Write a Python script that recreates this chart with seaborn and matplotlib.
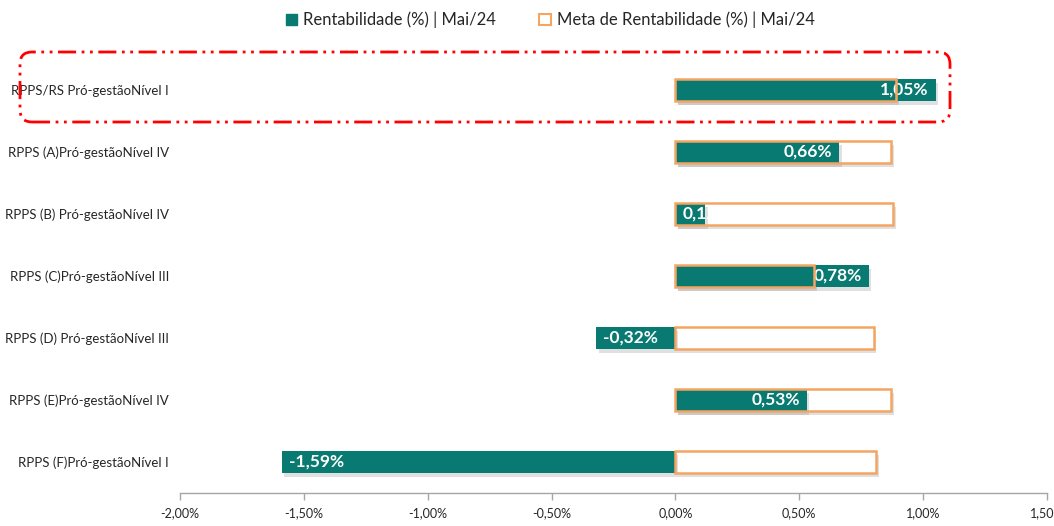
import numpy as np
import pandas as pd
import matplotlib
matplotlib.use("Agg")
import matplotlib.pyplot as plt
import matplotlib.patheffects as pe
from matplotlib.patches import Patch, FancyBboxPatch
from matplotlib.transforms import IdentityTransform
import seaborn as sns

categories = [
    "RPPS/RS Pró-gestãoNível I",
    "RPPS (A)Pró-gestãoNível IV",
    "RPPS (B) Pró-gestãoNível IV",
    "RPPS (C)Pró-gestãoNível III",
    "RPPS (D) Pró-gestãoNível III",
    "RPPS (E)Pró-gestãoNível IV",
    "RPPS (F)Pró-gestãoNível I",
]
rentabilidade = [1.05, 0.66, 0.12, 0.78, -0.32, 0.53, -1.59]
meta = [0.89, 0.87, 0.88, 0.56, 0.80, 0.87, 0.81]
xticks = [-2.0, -1.5, -1.0, -0.5, 0.0, 0.5, 1.0, 1.5]
legend_labels = ["Rentabilidade (%) | Mai/24", "Meta de Rentabilidade (%) | Mai/24"]

TEAL = "#097a71"
ORANGE = "#f4a562"

sns.set_style("white")
plt.rcParams["font.family"] = ["Lato", "DejaVu Sans"]

df = pd.DataFrame({"cat": categories, "rent": rentabilidade, "meta": meta})

fig = plt.figure(figsize=(10.54, 5.26), dpi=100)
ax = fig.add_axes([180 / 1054, 1 - 493 / 526, (1047 - 180) / 1054, 434 / 526])

shadow = [pe.SimplePatchShadow(offset=(2, -3), shadow_rgbFace="#999999", alpha=0.3), pe.Normal()]

# meta white fill
sns.barplot(data=df, x="meta", y="cat", orient="h", color="white", width=0.36,
            edgecolor="none", linewidth=0, saturation=1, ax=ax, zorder=1)
for p in ax.patches:
    p.set_path_effects(shadow)
n_meta = len(ax.patches)
# rentabilidade teal
sns.barplot(data=df, x="rent", y="cat", orient="h", color=TEAL, width=0.36,
            edgecolor="none", linewidth=0, saturation=1, ax=ax, zorder=2)
for p in ax.patches[n_meta:]:
    p.set_path_effects(shadow)
n_rent = len(ax.patches)
# meta outline on top
sns.barplot(data=df, x="meta", y="cat", orient="h", fill=False, width=0.36,
            edgecolor=ORANGE, linewidth=1.8, ax=ax, zorder=4)
for p in ax.patches[n_rent:]:
    p.set_facecolor("none")
    p.set_edgecolor(ORANGE)
    p.set_linewidth(1.8)
    p.set_zorder(4)

# value labels
for i, v in enumerate(rentabilidade):
    txt = f"{v:.2f}%".replace(".", ",")
    kw = dict(textcoords="offset points", va="center", color="white", fontsize=12.5,
              fontweight="bold", zorder=3)
    if v < 0:
        ax.annotate(txt, (v, i), xytext=(5, 0), ha="left", **kw)
    elif v < 0.3:
        ax.annotate(txt, (0, i), xytext=(5, 0), ha="left", **kw)
    else:
        ax.annotate(txt, (v, i), xytext=(-5, 0), ha="right", **kw)

ax.set_xlim(-2.0, 1.5)
ax.set_ylim(6.5, -0.5)
ax.set_xticks(xticks)
ax.set_xticklabels([f"{t:.2f}%".replace(".", ",") for t in xticks], fontsize=9)
ax.set_xlabel("")
ax.set_ylabel("")
ax.tick_params(axis="y", length=0, pad=8, labelsize=9.5)
ax.tick_params(axis="x", bottom=True, length=5, width=1, color="#a6a6a6", direction="out", pad=5)
for s in ["left", "top", "right"]:
    ax.spines[s].set_visible(False)
ax.spines["bottom"].set_color("#a6a6a6")
ax.spines["bottom"].set_linewidth(1)
ax.grid(False)

# legend
handles = [Patch(facecolor=TEAL, edgecolor=TEAL),
           Patch(facecolor="white", edgecolor=ORANGE, linewidth=1.5)]
fig.legend(handles, legend_labels, loc="center", bbox_to_anchor=(0.522, 1 - 20 / 526),
           ncol=2, frameon=False, fontsize=12, handlelength=0.7, handleheight=0.7,
           handletextpad=0.35, columnspacing=2.6)

# highlight box around first row
box = FancyBboxPatch((20, 526 - 122), 930, 70, boxstyle="round,pad=0,rounding_size=12",
                     transform=IdentityTransform(), fill=False, edgecolor="red",
                     linewidth=2, linestyle=(0, (6.5, 2, 1, 2, 1, 2)), zorder=10)
fig.patches.append(box)

fig.savefig("out.png", dpi=100)
